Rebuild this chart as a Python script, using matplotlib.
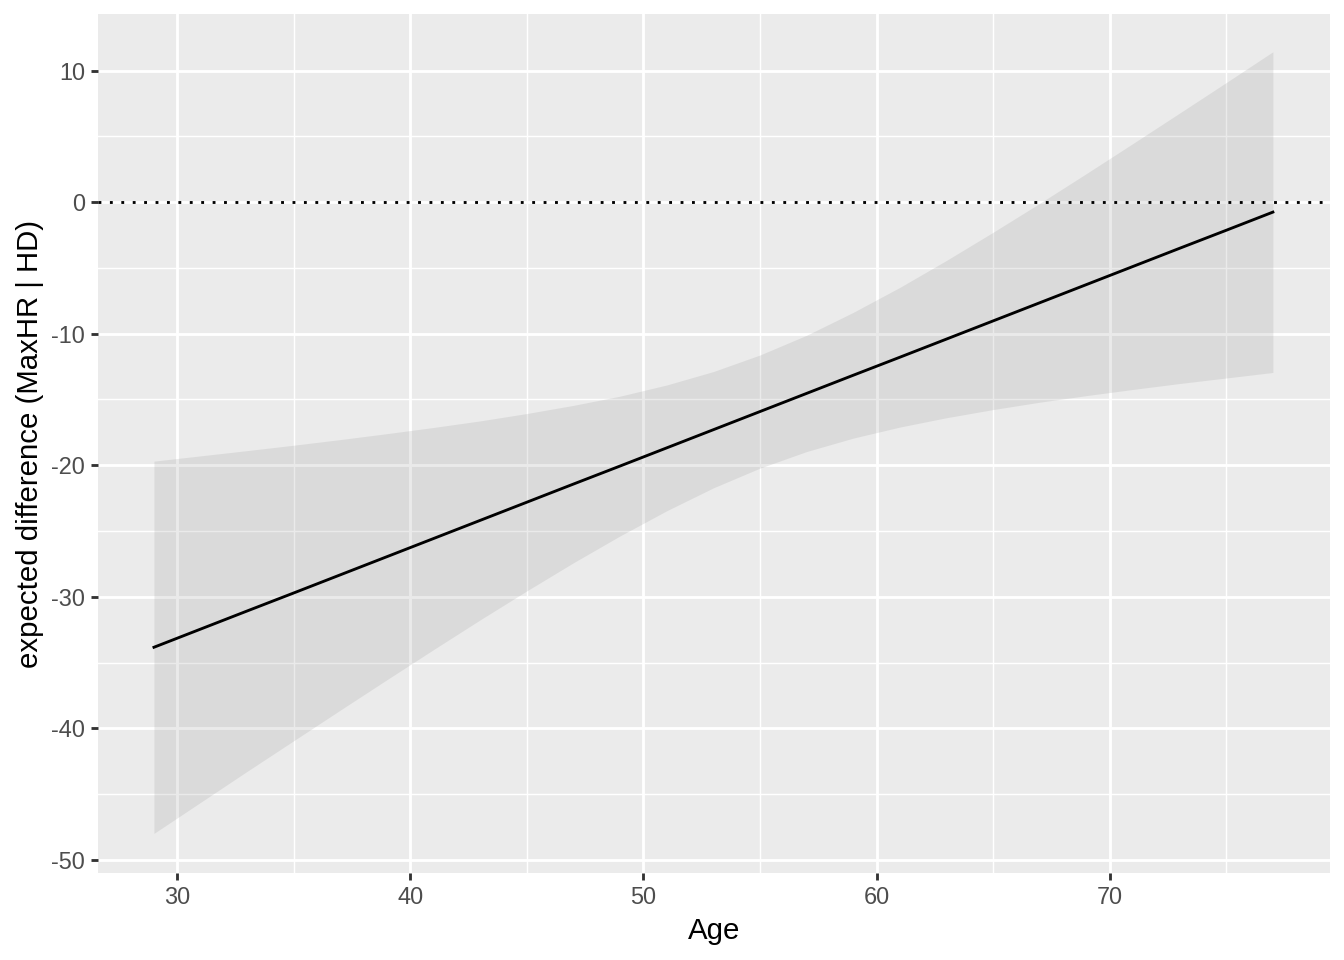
import numpy as np
import matplotlib.pyplot as plt
from matplotlib.ticker import MultipleLocator

plt.rcParams['font.family'] = ['Liberation Sans', 'DejaVu Sans']
plt.rcParams['axes.unicode_minus'] = False

# values
age = [29, 31, 33, 35, 37, 39, 41, 43, 45, 47, 49, 51, 53,
       55, 57, 59, 61, 63, 65, 67, 69, 71, 73, 75, 77]
fit = [-33.84, -32.46, -31.08, -29.71, -28.33, -26.95, -25.57, -24.19, -22.81,
       -21.43, -20.06, -18.68, -17.30, -15.92, -14.54, -13.16, -11.79, -10.41,
       -9.03, -7.65, -6.27, -4.89, -3.51, -2.14, -0.76]
upper = [-19.69, -19.29, -18.89, -18.48, -18.05, -17.60, -17.13, -16.63, -16.07,
         -15.45, -14.75, -13.90, -12.88, -11.62, -10.12, -8.38, -6.48, -4.43,
         -2.29, -0.09, 2.17, 4.46, 6.77, 9.09, 11.43]
lower = [-47.99, -45.63, -43.27, -40.94, -38.61, -36.30, -34.01, -31.75, -29.55,
         -27.41, -25.37, -23.46, -21.72, -20.22, -18.96, -17.94, -17.10, -16.39,
         -15.77, -15.21, -14.71, -14.24, -13.79, -13.37, -12.95]

W, H = 1344, 960
fig = plt.figure(figsize=(7, 5), dpi=192)
ax = fig.add_axes([98 / W, 1 - 873 / H, (1330 - 98) / W, (873 - 14) / H])
ax.set_facecolor('#EBEBEB')
for s in ax.spines.values():
    s.set_visible(False)

ax.fill_between(age, lower, upper, color='#999999', alpha=0.2, linewidth=0, zorder=2)
ax.plot(age, fit, color='black', lw=1.07, zorder=3)
ax.axhline(0, color='black', lw=1.07, ls=(0, (1, 3)), zorder=3)

ax.set_xlim(26.6, 79.45)
ax.set_ylim(-51.0, 14.3)
ax.xaxis.set_major_locator(MultipleLocator(10))
ax.xaxis.set_minor_locator(MultipleLocator(5))
ax.yaxis.set_major_locator(MultipleLocator(10))
ax.yaxis.set_minor_locator(MultipleLocator(5))
ax.grid(which='major', color='white', lw=1.07, zorder=0)
ax.grid(which='minor', color='white', lw=0.53, zorder=0)
ax.set_axisbelow(True)

ax.tick_params(which='major', length=2.75, width=1.07, color='#333333',
               labelcolor='#4D4D4D', labelsize=8.8, pad=2.2)
ax.tick_params(which='minor', length=0)

ax.set_xlabel('Age', fontsize=11, labelpad=2.75)
ax.set_ylabel('expected difference (MaxHR | HD)', fontsize=11, labelpad=2.75)

fig.savefig('out.png', dpi=192)
